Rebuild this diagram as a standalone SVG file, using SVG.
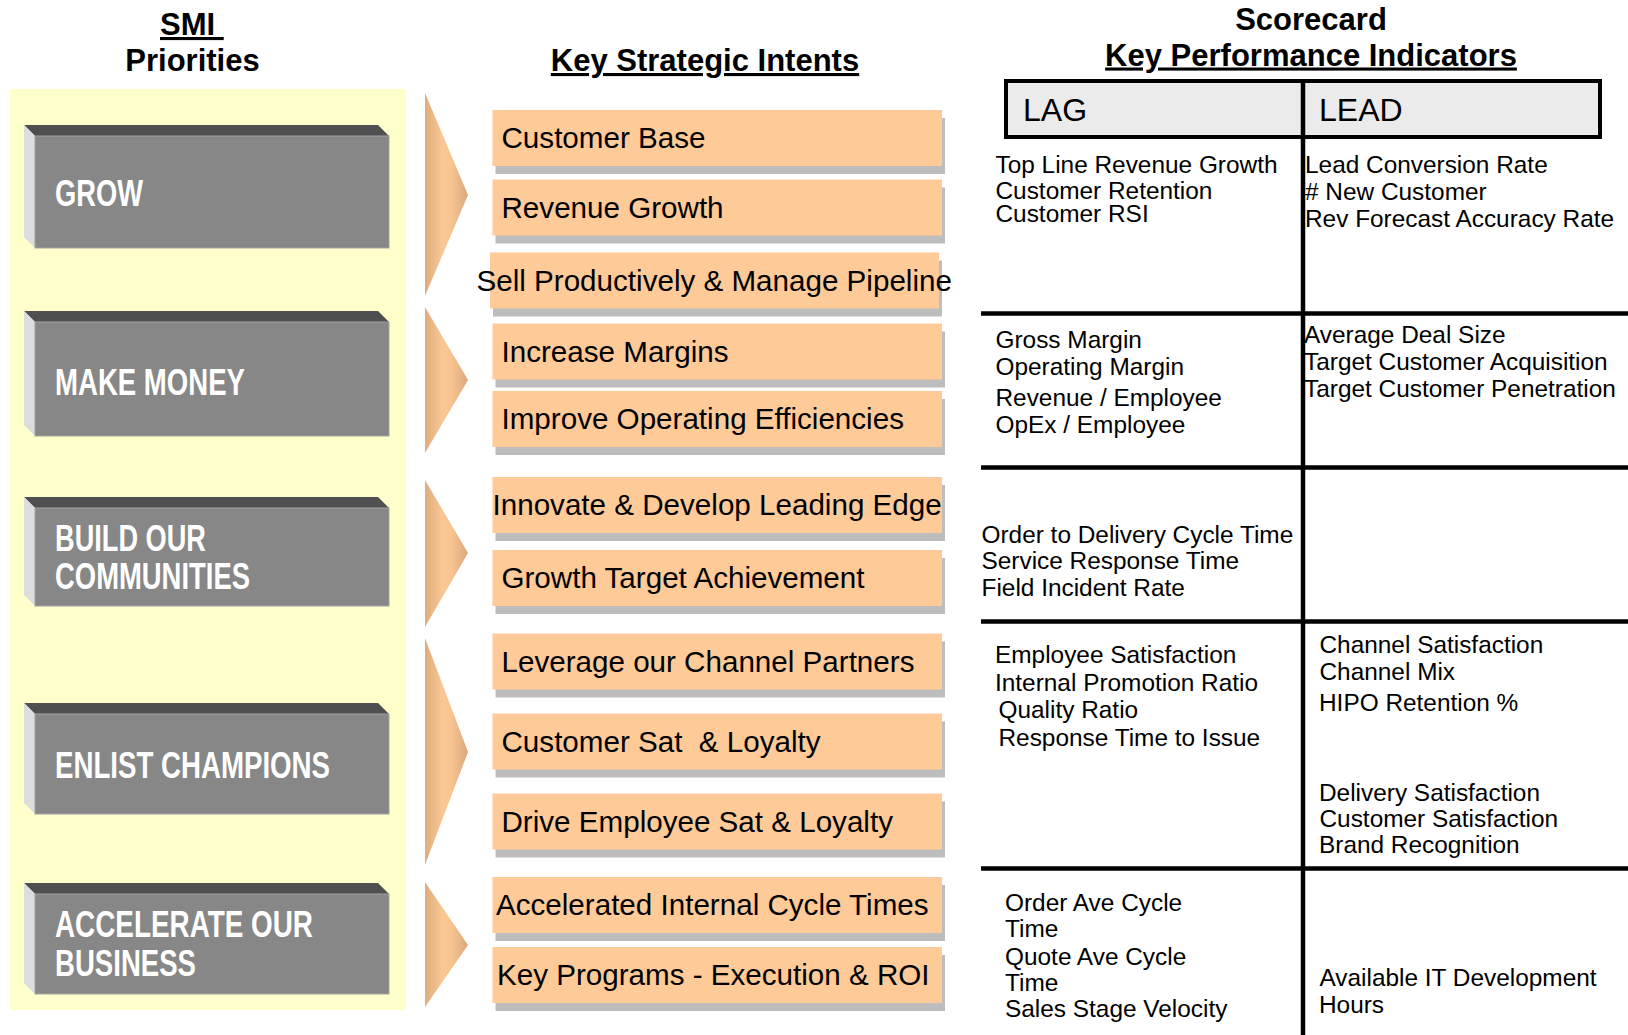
<svg xmlns="http://www.w3.org/2000/svg" width="1628" height="1035" viewBox="0 0 1628 1035">
<style>
.title{font-family:"Liberation Sans",Arial,sans-serif;font-weight:bold;font-size:31px;fill:#000;text-decoration:underline;}
.title2{font-family:"Liberation Sans",Arial,sans-serif;font-weight:bold;font-size:31px;fill:#000;}
.gtop{fill:#4f4f4f;}
.gside{fill:#dddddd;}
.gface{fill:#878787;stroke:#a3a3a3;stroke-width:1;}
.glabel{font-family:"Liberation Sans Narrow","Liberation Sans",Arial,sans-serif;font-weight:bold;font-size:36px;fill:#fff;}
.chev{fill:url(#chevGrad);}
.obox{fill:#fdca98;}
.oshadow{fill:#bdbdbd;}
.olabel{font-family:"Liberation Sans",Arial,sans-serif;font-size:29.6px;fill:#000;white-space:pre;}
.hdr{fill:#ebebeb;stroke:#000;stroke-width:4;}
.hlabel{font-family:"Liberation Sans",Arial,sans-serif;font-size:32px;fill:#000;}
.kpi{font-family:"Liberation Sans",Arial,sans-serif;font-size:24.4px;fill:#000;}
.rule{stroke:#000;stroke-width:4.5;fill:none;}
</style>
<defs>
<linearGradient id="chevGrad" x1="0" y1="0" x2="1" y2="0">
<stop offset="0" stop-color="#dcad80"/>
<stop offset="0.4" stop-color="#f9c793"/>
<stop offset="0.6" stop-color="#f8c591"/>
<stop offset="1" stop-color="#d8a87c"/>
</linearGradient>
</defs>
<rect width="1628" height="1035" fill="#fff"/>

<g id="titles">
<text class="title" x="160" y="35" style="white-space:pre">SMI&#160;</text>
<text class="title2" x="192.5" y="71" text-anchor="middle">Priorities</text>
<text class="title" x="705" y="71" text-anchor="middle">Key Strategic Intents</text>
<text class="title2" x="1311" y="30" text-anchor="middle">Scorecard</text>
<text class="title" x="1311" y="65.5" text-anchor="middle">Key Performance Indicators</text>
</g>

<rect id="priorities-panel" x="10" y="89" width="396" height="921" fill="#ffffcc"/>

<g id="p-grow">
<polygon class="gtop" points="24,125 378,125 389,136 35,136"/>
<polygon class="gside" points="24,125 35,136 35,248 24,237"/>
<rect class="gface" x="35" y="136" width="354" height="112"/>
<text class="glabel" x="55" y="205.5" textLength="88" lengthAdjust="spacingAndGlyphs">GROW</text>
</g>
<g id="p-make-money">
<polygon class="gtop" points="24,311 378,311 389,322 35,322"/>
<polygon class="gside" points="24,311 35,322 35,436 24,425"/>
<rect class="gface" x="35" y="322" width="354" height="114"/>
<text class="glabel" x="55" y="394.5" textLength="190" lengthAdjust="spacingAndGlyphs">MAKE MONEY</text>
</g>
<g id="p-build">
<polygon class="gtop" points="24,497 378,497 389,508 35,508"/>
<polygon class="gside" points="24,497 35,508 35,606 24,595"/>
<rect class="gface" x="35" y="508" width="354" height="98"/>
<text class="glabel" x="55" y="550.5" textLength="151" lengthAdjust="spacingAndGlyphs">BUILD OUR</text>
<text class="glabel" x="55" y="588.5" textLength="195" lengthAdjust="spacingAndGlyphs">COMMUNITIES</text>
</g>
<g id="p-enlist">
<polygon class="gtop" points="24,703 378,703 389,714 35,714"/>
<polygon class="gside" points="24,703 35,714 35,814 24,803"/>
<rect class="gface" x="35" y="714" width="354" height="100"/>
<text class="glabel" x="55" y="778" textLength="275" lengthAdjust="spacingAndGlyphs">ENLIST CHAMPIONS</text>
</g>
<g id="p-accelerate">
<polygon class="gtop" points="24,883 378,883 389,894 35,894"/>
<polygon class="gside" points="24,883 35,894 35,994 24,983"/>
<rect class="gface" x="35" y="894" width="354" height="100"/>
<text class="glabel" x="55" y="936.5" textLength="258" lengthAdjust="spacingAndGlyphs">ACCELERATE OUR</text>
<text class="glabel" x="55" y="975.5" textLength="141" lengthAdjust="spacingAndGlyphs">BUSINESS</text>
</g>

<g id="connectors">
<polygon class="chev" points="425,93 468,195 425,296"/>
<polygon class="chev" points="425,307 468,380 425,453"/>
<polygon class="chev" points="425,480 468,553 425,627"/>
<polygon class="chev" points="425,638 468,752 425,865"/>
<polygon class="chev" points="425,882 468,945 425,1007"/>
</g>

<g id="i-customer-base"><rect class="oshadow" x="495.5" y="118" width="449.5" height="56"/><rect class="obox" x="492.5" y="110" width="449.5" height="56"/><text class="olabel" x="501.5" y="148">Customer Base</text></g>
<g id="i-revenue-growth"><rect class="oshadow" x="495.5" y="187.5" width="449.5" height="56"/><rect class="obox" x="492.5" y="179.5" width="449.5" height="56"/><text class="olabel" x="501.5" y="217.5">Revenue Growth</text></g>
<g id="i-sell"><rect class="oshadow" x="493" y="260.5" width="449" height="56"/><rect class="obox" x="490" y="252.5" width="449" height="56"/><text class="olabel" x="476.5" y="290.5">Sell Productively &amp; Manage Pipeline</text></g>
<g id="i-margins"><rect class="oshadow" x="495.5" y="331.5" width="449.5" height="56"/><rect class="obox" x="492.5" y="323.5" width="449.5" height="56"/><text class="olabel" x="501.5" y="361.5">Increase Margins</text></g>
<g id="i-efficiencies"><rect class="oshadow" x="495.5" y="399" width="449.5" height="56"/><rect class="obox" x="492.5" y="391" width="449.5" height="56"/><text class="olabel" x="501.5" y="429">Improve Operating Efficiencies</text></g>
<g id="i-innovate"><rect class="oshadow" x="495.5" y="485" width="449.5" height="56"/><rect class="obox" x="492.5" y="477" width="449.5" height="56"/><text class="olabel" x="492.5" y="515">Innovate &amp; Develop Leading Edge</text></g>
<g id="i-growth-target"><rect class="oshadow" x="495.5" y="558" width="449.5" height="56"/><rect class="obox" x="492.5" y="550" width="449.5" height="56"/><text class="olabel" x="501.5" y="588">Growth Target Achievement</text></g>
<g id="i-channel"><rect class="oshadow" x="495.5" y="641.5" width="449.5" height="56"/><rect class="obox" x="492.5" y="633.5" width="449.5" height="56"/><text class="olabel" x="501.5" y="671.5">Leverage our Channel Partners</text></g>
<g id="i-customer-sat"><rect class="oshadow" x="495.5" y="721.5" width="449.5" height="56"/><rect class="obox" x="492.5" y="713.5" width="449.5" height="56"/><text class="olabel" x="501.5" y="751.5">Customer Sat  &amp; Loyalty</text></g>
<g id="i-employee-sat"><rect class="oshadow" x="495.5" y="801.5" width="449.5" height="56"/><rect class="obox" x="492.5" y="793.5" width="449.5" height="56"/><text class="olabel" x="501.5" y="831.5">Drive Employee Sat &amp; Loyalty</text></g>
<g id="i-cycle-times"><rect class="oshadow" x="495.5" y="885" width="449.5" height="56"/><rect class="obox" x="492.5" y="877" width="449.5" height="56"/><text class="olabel" x="496" y="915">Accelerated Internal Cycle Times</text></g>
<g id="i-key-programs"><rect class="oshadow" x="495.5" y="955" width="449.5" height="56"/><rect class="obox" x="492.5" y="947" width="449.5" height="56"/><text class="olabel" x="497" y="985">Key Programs - Execution &amp; ROI</text></g>

<g id="kpi-table">
<rect class="hdr" x="1006" y="81" width="594" height="56"/>
<line class="rule" x1="1303" y1="81" x2="1303" y2="1035"/>
<line class="rule" x1="981" y1="313.5" x2="1628" y2="313.5"/>
<line class="rule" x1="981" y1="467.5" x2="1628" y2="467.5"/>
<line class="rule" x1="981" y1="621.5" x2="1628" y2="621.5"/>
<line class="rule" x1="981" y1="868.5" x2="1628" y2="868.5"/>
<text class="hlabel" x="1023" y="121">LAG</text>
<text class="hlabel" x="1319" y="121">LEAD</text>

<text class="kpi" x="995.5" y="173">Top Line Revenue Growth</text>
<text class="kpi" x="995.5" y="198.5">Customer Retention</text>
<text class="kpi" x="995.5" y="222">Customer RSI</text>
<text class="kpi" x="1305" y="173">Lead Conversion Rate</text>
<text class="kpi" x="1305" y="200">&#35; New Customer</text>
<text class="kpi" x="1305" y="227">Rev Forecast Accuracy Rate</text>

<text class="kpi" x="995.5" y="348">Gross Margin</text>
<text class="kpi" x="995.5" y="375">Operating Margin</text>
<text class="kpi" x="995.5" y="406">Revenue / Employee</text>
<text class="kpi" x="995.5" y="433">OpEx / Employee</text>
<text class="kpi" x="1304" y="342.5">Average Deal Size</text>
<text class="kpi" x="1304" y="370">Target Customer Acquisition</text>
<text class="kpi" x="1304" y="396.5">Target Customer Penetration</text>

<text class="kpi" x="981.5" y="542.5">Order to Delivery Cycle Time</text>
<text class="kpi" x="981.5" y="569">Service Response Time</text>
<text class="kpi" x="981.5" y="596">Field Incident Rate</text>

<text class="kpi" x="995" y="663">Employee Satisfaction</text>
<text class="kpi" x="995" y="690.5">Internal Promotion Ratio</text>
<text class="kpi" x="998.5" y="718">Quality Ratio</text>
<text class="kpi" x="998.5" y="746">Response Time to Issue</text>
<text class="kpi" x="1319.5" y="652.5">Channel Satisfaction</text>
<text class="kpi" x="1319.5" y="680">Channel Mix</text>
<text class="kpi" x="1319" y="710.5">HIPO Retention %</text>
<text class="kpi" x="1319" y="800.5">Delivery Satisfaction</text>
<text class="kpi" x="1319.5" y="827">Customer Satisfaction</text>
<text class="kpi" x="1319" y="853">Brand Recognition</text>

<text class="kpi" x="1005" y="911">Order Ave Cycle</text>
<text class="kpi" x="1005" y="937">Time</text>
<text class="kpi" x="1005" y="965">Quote Ave Cycle</text>
<text class="kpi" x="1005" y="990.5">Time</text>
<text class="kpi" x="1005" y="1017">Sales Stage Velocity</text>
<text class="kpi" x="1319.5" y="986">Available IT Development</text>
<text class="kpi" x="1319" y="1012.5">Hours</text>
</g>
</svg>
